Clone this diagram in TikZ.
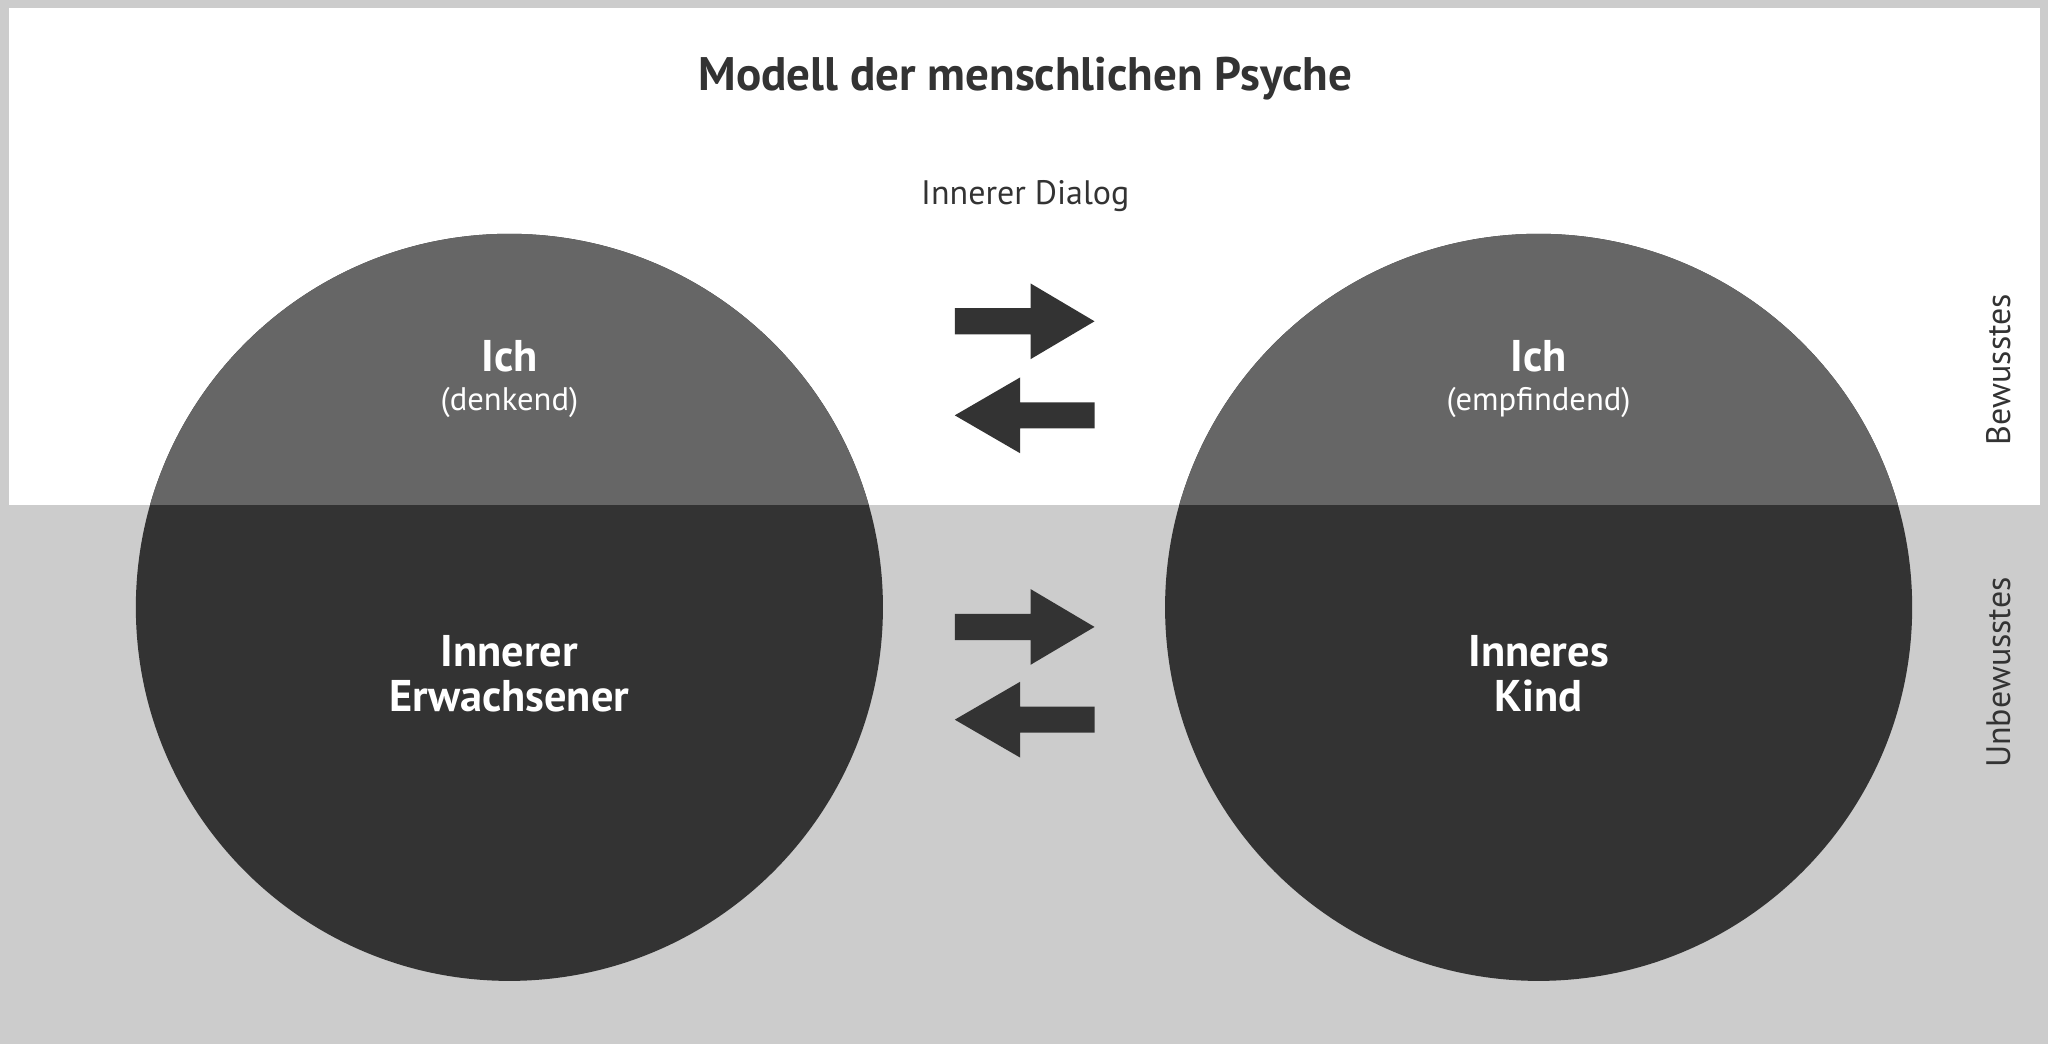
\documentclass[tikz,border=0pt]{standalone}
\usepackage{fontspec}
\setmainfont{PT Sans}
\definecolor{bgg}{HTML}{CCCCCC}
\definecolor{dk}{HTML}{333333}
\definecolor{md}{HTML}{666666}
\begin{document}
\begin{tikzpicture}[x=1pt,y=-1pt,
  wt/.style={text=white,font=\bfseries\fontsize{34}{40}\selectfont,align=center},
  sub/.style={text=white,font=\fontsize{25}{30}\selectfont},
  side/.style={text=dk,font=\fontsize{26}{30}\selectfont,rotate=90}]
\fill[bgg] (0,0) rectangle (1568,799);
\fill[white] (7,6) rectangle (1562,387);
\foreach \cx/\nm in {390/L,1178/R}{
  \fill[dk] (\cx,465) circle (286);
  \begin{scope}
    \clip (\cx,465) circle (286);
    \fill[md] (\cx-300,170) rectangle (\cx+300,387);
  \end{scope}
}
\node[text=dk,font=\bfseries\fontsize{36}{40}\selectfont] (title) at (785,60) {Modell der menschlichen Psyche};
\node[text=dk,font=\fontsize{26}{30}\selectfont] (dialog) at (785,150) {Innerer Dialog};
\node[wt] (ich1) at (390,273) {Ich};
\node[sub] (dk1) at (390,308) {(denkend)};
\node[wt] (ie) at (390,516) {Innerer\\[-6pt]Erwachsener};
\node[wt] (ich2) at (1178,273) {Ich};
\node[sub] (em) at (1178,308) {(empfindend)};
\node[wt] (ik) at (1178,516) {Inneres\\[-6pt]Kind};
\node[side] (bw) at (1530,283) {Bewusstes};
\node[side] (ubw) at (1530,515) {Unbewusstes};
\foreach \y in {246,480}{
  \fill[dk] (731,\y-10) -- (789,\y-10) -- (789,\y-29) -- (838,\y) -- (789,\y+29) -- (789,\y+10) -- (731,\y+10) -- cycle;
}
\foreach \y in {318,551}{
  \fill[dk] (838,\y-10) -- (781,\y-10) -- (781,\y-29) -- (731,\y) -- (781,\y+29) -- (781,\y+10) -- (838,\y+10) -- cycle;
}
\end{tikzpicture}
\end{document}
